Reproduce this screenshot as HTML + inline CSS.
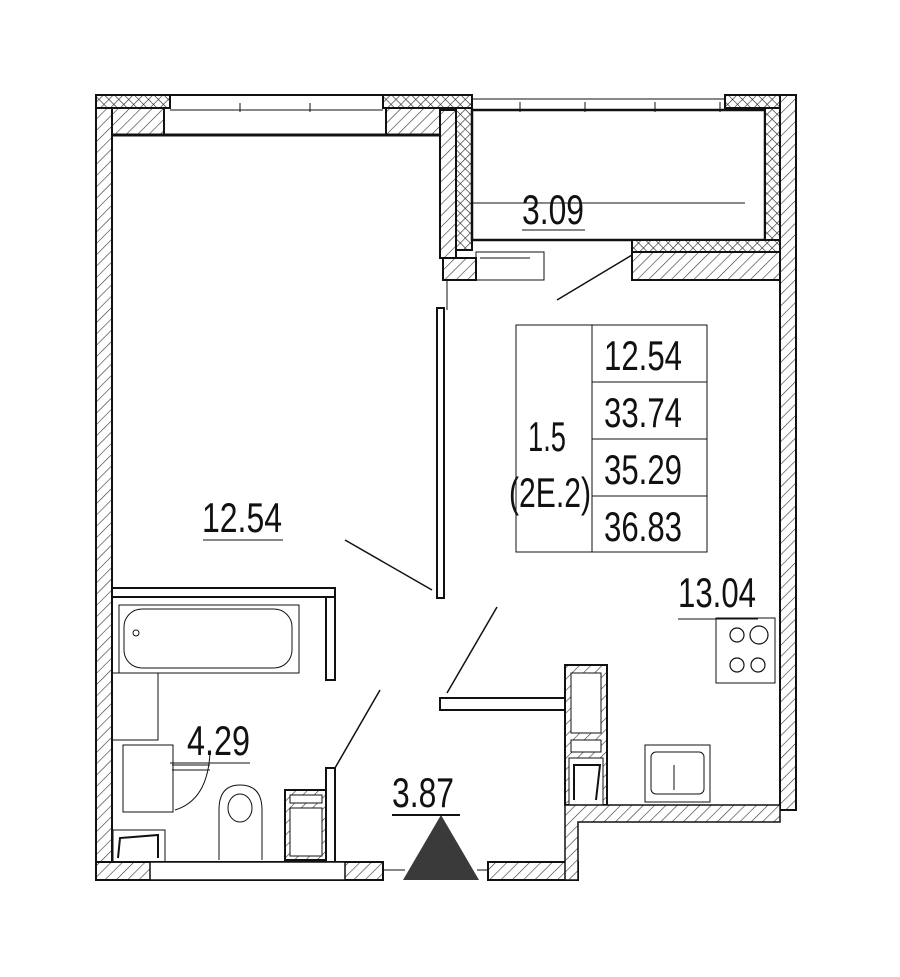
<!DOCTYPE html>
<html><head><meta charset="utf-8"><style>body{margin:0;background:#fff}svg{display:block}text{font-family:"Liberation Sans Narrow","Liberation Sans",sans-serif;fill:#111}</style></head><body>
<svg width="900" height="977" viewBox="0 0 900 977" xmlns="http://www.w3.org/2000/svg">
<defs>
<pattern id="h" width="8" height="8" patternUnits="userSpaceOnUse" patternTransform="rotate(45)"><rect width="8" height="8" fill="#fff"/><line x1="0" y1="0" x2="0" y2="8" stroke="#333" stroke-width="1.2"/></pattern>
<pattern id="x" width="7" height="7" patternUnits="userSpaceOnUse" patternTransform="rotate(45)"><rect width="7" height="7" fill="#fff"/><line x1="0" y1="0" x2="0" y2="7" stroke="#222" stroke-width="1.2"/><line x1="0" y1="0" x2="7" y2="0" stroke="#222" stroke-width="1.2"/></pattern>
</defs>
<g stroke="#111" stroke-width="2">
<rect x="96" y="95" width="74" height="13" fill="url(#x)"/>
<rect x="383" y="95" width="89" height="13" fill="url(#x)"/>
<rect x="725" y="95" width="71" height="13" fill="url(#x)"/>
<line x1="170" y1="95" x2="383" y2="95"/><line x1="170" y1="110" x2="383" y2="110" stroke-width="1"/>
<line x1="240" y1="103" x2="240" y2="112" stroke-width="1"/><line x1="310" y1="103" x2="310" y2="112" stroke-width="1"/>
<rect x="112" y="108" width="52" height="27" fill="url(#h)"/>
<rect x="386" y="108" width="54" height="27" fill="url(#h)"/>
<rect x="96" y="108" width="16" height="754" fill="url(#h)"/>
<line x1="112" y1="135" x2="440" y2="135" stroke-width="3"/>
<rect x="440" y="110" width="16" height="148" fill="url(#h)"/>
<rect x="456" y="108" width="16" height="142" fill="url(#x)"/>
<rect x="472" y="110" width="293" height="130" fill="none" stroke-width="2.5"/>
<line x1="472" y1="99" x2="725" y2="99" stroke-width="1"/>
<line x1="520" y1="102" x2="520" y2="112" stroke-width="1"/><line x1="585" y1="102" x2="585" y2="112" stroke-width="1"/><line x1="655" y1="102" x2="655" y2="112" stroke-width="1"/><line x1="720" y1="102" x2="720" y2="112" stroke-width="1"/>
<rect x="765" y="108" width="15" height="142" fill="url(#x)"/>
<rect x="632" y="240" width="148" height="12" fill="url(#x)"/>
<rect x="780" y="95" width="16" height="715" fill="url(#h)"/>
<rect x="632" y="252" width="148" height="28" fill="url(#h)"/>
<rect x="443" y="258" width="33" height="22" fill="url(#h)"/>
<rect x="476" y="252" width="68" height="28" fill="none" stroke-width="1"/>
<line x1="480" y1="258" x2="530" y2="258" stroke-width="1"/>
<line x1="632" y1="255" x2="557" y2="300" stroke-width="1.5"/>
<line x1="447" y1="280" x2="447" y2="310" stroke-width="1"/>
<rect x="437" y="308" width="7" height="290" fill="#fff"/>
<line x1="345" y1="540" x2="432" y2="590" stroke-width="1.5"/>
<rect x="112" y="588" width="223" height="9" fill="#fff"/>
<rect x="326" y="597" width="9" height="83" fill="#fff"/>
<rect x="119" y="605" width="180" height="68" fill="none" stroke-width="1"/>
<rect x="124" y="609" width="168" height="59" rx="18" fill="none" stroke-width="1"/>
<circle cx="136" cy="633" r="3" fill="none" stroke-width="1"/>
<rect x="112" y="673" width="46" height="67" fill="none" stroke-width="1"/>
<rect x="123" y="745" width="50" height="67" fill="none" stroke-width="1"/>
<path d="M172 765 H210 M172 770 H210 M210 752 Q208 800 175 810" fill="none" stroke-width="1"/>
<path d="M219 860 V810 Q219 785 240 785 Q262 785 262 810 V860" fill="none" stroke-width="1"/>
<ellipse cx="240" cy="808" rx="12" ry="14" fill="none" stroke-width="1"/>
<rect x="285" y="790" width="41" height="70" fill="url(#h)"/>
<rect x="290" y="808" width="32" height="48" fill="#fff" stroke-width="1"/>
<rect x="290" y="795" width="32" height="8" fill="#fff" stroke-width="1"/>
<rect x="113" y="830" width="52" height="32" fill="none" stroke-width="1"/>
<path d="M118 858 L120 838 L158 835 L158 858" fill="none" stroke-width="2"/>
<rect x="326" y="768" width="9" height="94" fill="#fff"/>
<line x1="335" y1="768" x2="380" y2="690" stroke-width="1.5"/>
<rect x="96" y="862" width="287" height="18" fill="url(#h)"/>
<rect x="150" y="862" width="195" height="18" fill="#fff" stroke-width="1.5"/>
<rect x="488" y="862" width="90" height="18" fill="url(#h)"/>
<line x1="383" y1="870" x2="405" y2="870" stroke-width="1"/><line x1="477" y1="870" x2="488" y2="870" stroke-width="1"/>
<polygon points="403,880 479,880 441,815" fill="#3a3a3a" stroke="none"/>
<rect x="440" y="698" width="125" height="12" fill="#fff"/>
<line x1="447" y1="693" x2="497" y2="607" stroke-width="1.5"/>
<rect x="565" y="665" width="42" height="140" fill="url(#h)"/>
<rect x="571" y="673" width="30" height="60" fill="#fff" stroke-width="1"/>
<rect x="571" y="740" width="30" height="12" fill="#fff" stroke-width="1"/>
<rect x="569" y="758" width="34" height="47" fill="#fff" stroke-width="1"/>
<path d="M574 800 V765 H600 L596 800" fill="none" stroke-width="2"/>
<path d="M565 805 H780 V822 H578 V880 H565 Z" fill="url(#h)" stroke-width="1.5"/>
<rect x="716" y="618" width="59" height="65" fill="none" stroke-width="1"/>
<circle cx="737" cy="635" r="7" fill="none" stroke-width="1.2"/><circle cx="759" cy="635" r="9" fill="none" stroke-width="1.2"/>
<circle cx="737" cy="665" r="7" fill="none" stroke-width="1.2"/><circle cx="758" cy="665" r="7" fill="none" stroke-width="1.2"/>
<rect x="645" y="745" width="65" height="57" fill="none" stroke-width="1"/>
<rect x="651" y="752" width="53" height="42" rx="5" fill="none" stroke-width="1"/>
<line x1="674" y1="765" x2="674" y2="790" stroke-width="1"/>
<rect x="516" y="325" width="191" height="227" fill="none" stroke-width="1"/>
<line x1="592" y1="325" x2="592" y2="552" stroke-width="1"/>
<line x1="592" y1="382" x2="707" y2="382" stroke-width="1"/>
<line x1="592" y1="439" x2="707" y2="439" stroke-width="1"/>
<line x1="592" y1="496" x2="707" y2="496" stroke-width="1"/>
<line x1="473" y1="203" x2="745" y2="203" stroke-width="1"/>
<line x1="522" y1="230" x2="585" y2="230" stroke-width="1"/>
<line x1="203" y1="540" x2="283" y2="540" stroke-width="1"/>
<line x1="678" y1="619" x2="758" y2="619" stroke-width="1"/>
<line x1="170" y1="763" x2="250" y2="763" stroke-width="1"/>
<line x1="392" y1="815" x2="460" y2="815" stroke-width="2"/>
</g>
<g font-size="42">
<text x="522" y="224" textLength="62" lengthAdjust="spacingAndGlyphs">3.09</text>
<text x="202" y="532" textLength="80" lengthAdjust="spacingAndGlyphs">12.54</text>
<text x="678" y="607" textLength="78" lengthAdjust="spacingAndGlyphs">13.04</text>
<text x="187" y="755" textLength="63" lengthAdjust="spacingAndGlyphs">4.29</text>
<text x="392" y="807" textLength="62" lengthAdjust="spacingAndGlyphs">3.87</text>
<text x="604" y="370" textLength="78" lengthAdjust="spacingAndGlyphs">12.54</text>
<text x="604" y="427" textLength="78" lengthAdjust="spacingAndGlyphs">33.74</text>
<text x="604" y="484" textLength="78" lengthAdjust="spacingAndGlyphs">35.29</text>
<text x="604" y="541" textLength="78" lengthAdjust="spacingAndGlyphs">36.83</text>
<text x="528" y="451" textLength="38" lengthAdjust="spacingAndGlyphs">1.5</text>
<text x="509" y="507" textLength="82" lengthAdjust="spacingAndGlyphs">(2E.2)</text>
</g>
</svg>
</body></html>
